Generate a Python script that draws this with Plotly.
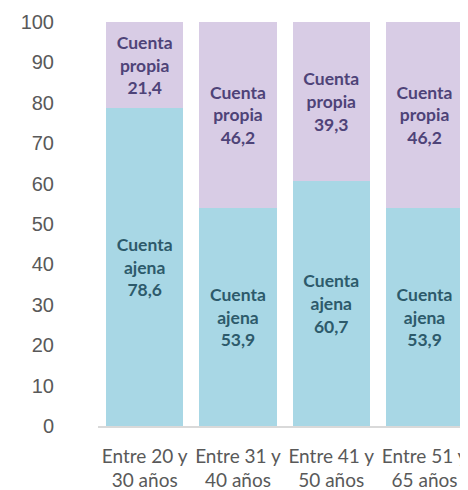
import plotly.graph_objects as go

categories = ["Entre 20 y<br>30 años", "Entre 31 y<br>40 años", "Entre 41 y<br>50 años", "Entre 51 y<br>65 años"]
cuenta_ajena = [78.6, 53.9, 60.7, 53.9]
cuenta_propia = [21.4, 46.2, 39.3, 46.2]
y_ticks = [0, 10, 20, 30, 40, 50, 60, 70, 80, 90, 100]

def fmt(v):
    return f"{v:.1f}".replace(".", ",")

fig = go.Figure()
fig.add_trace(go.Bar(
    x=categories, y=cuenta_ajena, name="Cuenta ajena",
    marker=dict(color="#A8D7E5", line=dict(width=0)),
    text=["Cuenta<br>ajena<br>" + fmt(v) for v in cuenta_ajena],
    textposition="inside", insidetextanchor="middle", textangle=0,
    textfont=dict(family="Lato", size=17.5, color="#2D5A6B", weight="bold"),
    hoverinfo="skip",
))
fig.add_trace(go.Bar(
    x=categories, y=cuenta_propia, name="Cuenta propia",
    marker=dict(color="#D8CCE5", line=dict(width=0)),
    text=["Cuenta<br>propia<br>" + fmt(v) for v in cuenta_propia],
    textposition="inside", insidetextanchor="middle", textangle=0,
    textfont=dict(family="Lato", size=17.5, color="#4E4378", weight="bold"),
    hoverinfo="skip",
))

fig.update_layout(
    barmode="stack",
    bargap=0.17,
    width=460, height=482,
    margin=dict(l=90, r=0, t=14, b=64),
    paper_bgcolor="white", plot_bgcolor="white",
    showlegend=False,
    uniformtext=dict(minsize=17, mode="show"),
)
fig.update_xaxes(
    range=[-0.5, 3.466],
    showline=True, linecolor="#D9D9D9", linewidth=1.5,
    showgrid=False, ticks="",
    ticklabelstandoff=12,
    tickfont=dict(family="Lato", size=19, color="#595959"),
)
fig.update_yaxes(
    range=[0, 100], tickvals=y_ticks,
    showgrid=False, zeroline=False, showline=False, ticks="",
    ticklabelstandoff=43,
    tickfont=dict(family="Liberation Sans", size=20, color="#595959"),
)

fig.write_html("out.html")
